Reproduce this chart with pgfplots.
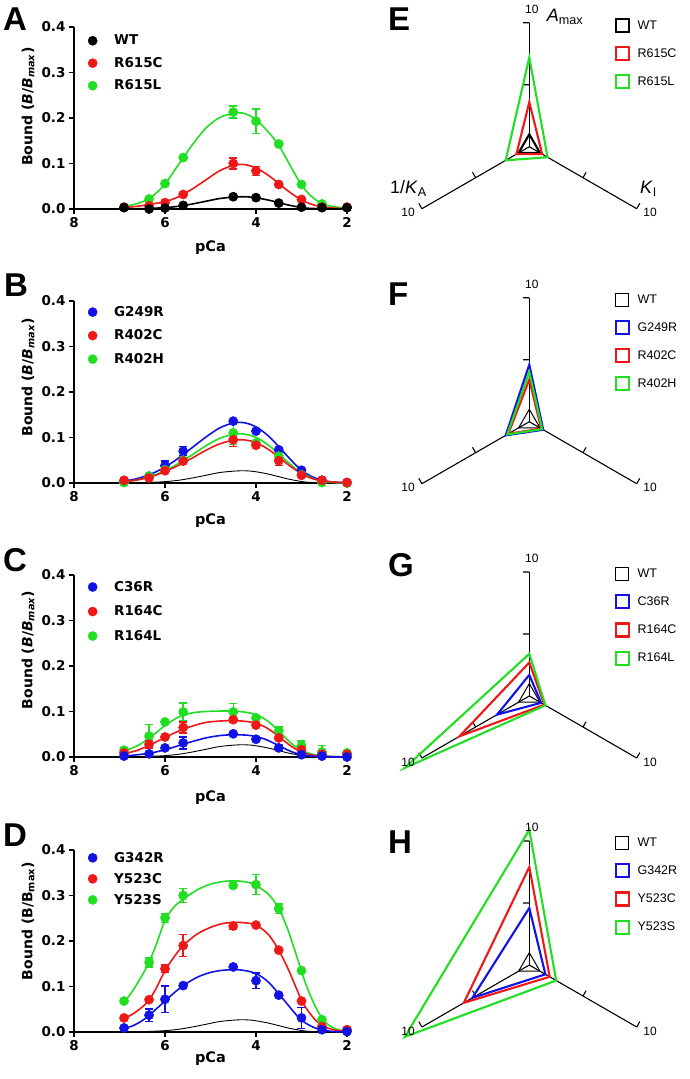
\documentclass[border=0pt]{standalone}
\usepackage{fontspec}
\setmainfont{Liberation Sans}
\newfontfamily\dejavu{DejaVu Sans}
\usepackage{pgfplots}
\pgfplotsset{compat=1.18}
\usepgfplotslibrary{polar}

\definecolor{cred}{RGB}{238,24,24}
\definecolor{cgreen}{RGB}{34,222,34}
\definecolor{cblue}{RGB}{18,18,230}

\newcommand{\bfont}[1]{\dejavu\bfseries\fontsize{#1}{#1}\selectfont}

\pgfplotsset{
  lp/.style={
    scale only axis, width=273pt, height=182pt,
    anchor=south west,
    xmin=2, xmax=8, x dir=reverse,
    ymin=0, ymax=0.4,
    axis x line*=bottom, axis y line*=left,
    axis line style={line width=1.6pt, black},
    xtick={2,4,6,8}, ytick={0,0.1,0.2,0.3,0.4},
    major tick style={line width=1.6pt, black},
    tick align=outside, major tick length=5pt,
    /pgf/number format/assume math mode=true,
    xticklabel style={font=\bfont{13.5}},
    yticklabel style={font=\bfont{13.5}, /pgf/number format/.cd, fixed, fixed zerofill, precision=1},
    xlabel={pCa},
    xlabel style={font=\bfont{14.5}, anchor=center},
    ylabel style={font=\bfont{14}, anchor=center},
    clip=false,
    legend cell align=left,
    legend style={draw=none, fill=none, anchor=north west, inner sep=0pt, nodes={inner sep=1.5pt}, font=\bfont{13.5}},
    legend image code/.code={\path[draw=none, fill=none] (-7pt,-5pt) rectangle (20pt,5pt); \draw[#1] plot coordinates {(0pt,0pt)};},
  },
  fit/.style={line width=1.6pt, smooth, mark=none, forget plot},
  wtref/.style={black, line width=0.9pt, smooth, mark=none, forget plot},
  pts/.style={only marks, mark=*, mark size=4.6pt, mark options={solid, line width=0.5pt}, forget plot,
    error bars/y dir=both, error bars/y explicit,
    error bars/error bar style={line width=1.4pt},
    error bars/error mark options={rotate=90, mark size=4pt, line width=1.4pt}},
  rp/.style={
    scale only axis, width=248pt, height=248pt, anchor=center,
    xmin=0, xmax=360, ymin=0, ymax=10,
    hide axis, clip=false,
    legend cell align=left,
    legend style={draw=none, fill=none, anchor=north west, at={(0.843,1.02)}, inner sep=0pt, nodes={inner sep=2pt}, row sep=13pt, font=\fontsize{12.5}{13}\selectfont},
    legend image code/.code={\path[draw=none, fill=none] (0pt,-6.5pt) rectangle (20pt,6.5pt); \draw[#1, line join=miter] (0pt,-6.5pt) rectangle (13pt,6.5pt);},
  },
  ax/.style={black, line width=1.1pt, mark=none, forget plot},
  poly/.style={line width=2.1pt, mark=none, line join=miter},
}

\begin{document}
\begin{tikzpicture}
\path[use as bounding box] (0pt,0pt) rectangle (689pt,-1079pt);

% ================= Panel A =================
\begin{axis}[lp, at={(74pt,-209pt)},
  xlabel style={at={(axis description cs:0.5,-0.21)}},
  ylabel={Bound (\textit{B}/\textit{B}\textsubscript{\textit{max}})},
  ylabel style={at={(axis description cs:-0.168,0.562)}},
  legend style={at={(0.042,0.965)}, row sep=8pt}]
\addlegendimage{only marks, mark=*, mark size=4.6pt, black}\addlegendentry{WT}
\addlegendimage{only marks, mark=*, mark size=4.6pt, cred}\addlegendentry{R615C}
\addlegendimage{only marks, mark=*, mark size=4.6pt, cgreen}\addlegendentry{R615L}
\addplot[fit, cgreen] coordinates {(6.9,0.006)(6.6,0.012)(6.3,0.026)(6.0,0.055)(5.7,0.098)(5.4,0.141)(5.1,0.178)(4.8,0.201)(4.5,0.210)(4.3,0.211)(4.1,0.203)(3.9,0.187)(3.7,0.166)(3.5,0.14)(3.3,0.105)(3.1,0.069)(2.9,0.040)(2.7,0.021)(2.5,0.010)(2.3,0.005)(2.0,0.002)};
\addplot[pts, cgreen] table[row sep=\\, x=x, y=y, y error=e] {x y e\\ 6.9 0.004 0\\ 6.35 0.022 0\\ 6.0 0.056 0\\ 5.6 0.113 0\\ 4.5 0.213 0.013\\ 4.0 0.193 0.027\\ 3.5 0.143 0\\ 3.0 0.054 0\\ 2.55 0.011 0\\ 2.0 0.003 0\\};
\addplot[fit, cred] coordinates {(6.9,0.003)(6.6,0.006)(6.3,0.011)(6.0,0.016)(5.7,0.027)(5.4,0.044)(5.1,0.064)(4.8,0.084)(4.5,0.096)(4.3,0.098)(4.1,0.094)(3.9,0.085)(3.7,0.072)(3.5,0.056)(3.3,0.040)(3.1,0.026)(2.9,0.015)(2.7,0.008)(2.5,0.004)(2.3,0.002)(2.0,0.001)};
\addplot[pts, cred] table[row sep=\\, x=x, y=y, y error=e] {x y e\\ 6.9 0.004 0\\ 6.35 0.007 0\\ 6.0 0.014 0\\ 5.6 0.032 0\\ 4.5 0.100 0.012\\ 4.0 0.084 0.01\\ 3.5 0.054 0\\ 3.0 0.021 0\\ 2.55 0.004 0\\ 2.0 0.004 0\\};
\addplot[fit, black] coordinates {(6.9,0.0)(6.6,0.0005)(6.3,0.0015)(6.0,0.003)(5.7,0.006)(5.4,0.011)(5.1,0.017)(4.8,0.023)(4.5,0.026)(4.3,0.027)(4.1,0.026)(3.9,0.023)(3.7,0.019)(3.5,0.014)(3.3,0.009)(3.1,0.005)(2.9,0.002)(2.7,0.001)(2.5,0.0)(2.0,0.0)};
\addplot[pts, black] table[row sep=\\, x=x, y=y, y error=e] {x y e\\ 6.9 0.003 0\\ 6.35 0.0 0\\ 6.0 0.002 0\\ 5.6 0.008 0\\ 4.5 0.027 0\\ 4.0 0.025 0\\ 3.5 0.013 0\\ 3.0 0.004 0\\ 2.55 0.003 0\\ 2.0 0.003 0\\};
\end{axis}

% ================= Panel B =================
\begin{axis}[lp, at={(74pt,-483pt)},
  xlabel style={at={(axis description cs:0.5,-0.206)}},
  ylabel={Bound (\textit{B}/\textit{B}\textsubscript{\textit{max}})},
  ylabel style={at={(axis description cs:-0.168,0.58)}},
  legend style={at={(0.042,0.98)}, row sep=9pt}]
\addlegendimage{only marks, mark=*, mark size=4.6pt, cblue}\addlegendentry{G249R}
\addlegendimage{only marks, mark=*, mark size=4.6pt, cred}\addlegendentry{R402C}
\addlegendimage{only marks, mark=*, mark size=4.6pt, cgreen}\addlegendentry{R402H}
\addplot[wtref] coordinates {(6.9,0.0)(6.6,0.0005)(6.3,0.0015)(6.0,0.003)(5.7,0.006)(5.4,0.011)(5.1,0.017)(4.8,0.023)(4.5,0.026)(4.3,0.027)(4.1,0.026)(3.9,0.023)(3.7,0.019)(3.5,0.014)(3.3,0.009)(3.1,0.005)(2.9,0.002)(2.7,0.001)(2.5,0.0)(2.0,0.0)};
\addplot[fit, cblue] coordinates {(6.9,0.004)(6.6,0.01)(6.3,0.02)(6.0,0.035)(5.7,0.055)(5.4,0.078)(5.1,0.101)(4.8,0.121)(4.5,0.132)(4.3,0.133)(4.1,0.128)(3.9,0.117)(3.7,0.101)(3.5,0.080)(3.3,0.058)(3.1,0.037)(2.9,0.021)(2.7,0.011)(2.5,0.005)(2.3,0.002)(2.0,0.001)};
\addplot[pts, cblue] table[row sep=\\, x=x, y=y, y error=e] {x y e\\ 6.9 0.004 0\\ 6.35 0.015 0\\ 6.0 0.038 0.01\\ 5.6 0.07 0.01\\ 4.5 0.136 0.004\\ 4.0 0.114 0.003\\ 3.5 0.073 0.004\\ 3.0 0.028 0\\ 2.55 0.006 0\\ 2.0 0.001 0\\};
\addplot[fit, cgreen] coordinates {(6.9,0.002)(6.6,0.007)(6.3,0.015)(6.0,0.027)(5.7,0.043)(5.4,0.062)(5.1,0.082)(4.8,0.098)(4.5,0.107)(4.3,0.108)(4.1,0.104)(3.9,0.095)(3.7,0.081)(3.5,0.064)(3.3,0.046)(3.1,0.029)(2.9,0.017)(2.7,0.008)(2.5,0.004)(2.3,0.001)(2.0,0.0)};
\addplot[pts, cgreen] table[row sep=\\, x=x, y=y, y error=e] {x y e\\ 6.9 0.001 0\\ 6.35 0.015 0\\ 6.0 0.029 0\\ 5.6 0.05 0\\ 4.5 0.11 0.025\\ 4.0 0.088 0\\ 3.5 0.059 0\\ 3.0 0.018 0\\ 2.55 0.001 0\\ 2.0 0.0 0\\};
\addplot[fit, cred] coordinates {(6.9,0.003)(6.6,0.007)(6.3,0.014)(6.0,0.025)(5.7,0.039)(5.4,0.055)(5.1,0.072)(4.8,0.086)(4.5,0.094)(4.3,0.095)(4.1,0.092)(3.9,0.084)(3.7,0.072)(3.5,0.057)(3.3,0.041)(3.1,0.027)(2.9,0.015)(2.7,0.008)(2.5,0.004)(2.3,0.002)(2.0,0.001)};
\addplot[pts, cred] table[row sep=\\, x=x, y=y, y error=e] {x y e\\ 6.9 0.006 0\\ 6.35 0.011 0\\ 6.0 0.027 0\\ 5.6 0.048 0\\ 4.5 0.095 0.015\\ 4.0 0.083 0\\ 3.5 0.049 0.01\\ 3.0 0.017 0\\ 2.55 0.006 0\\ 2.0 0.001 0\\};
\end{axis}

% ================= Panel C =================
\begin{axis}[lp, at={(74pt,-757pt)},
  xlabel style={at={(axis description cs:0.5,-0.222)}},
  ylabel={Bound (\textit{B}/\textit{B}\textsubscript{\textit{max}})},
  ylabel style={at={(axis description cs:-0.168,0.588)}},
  legend style={at={(0.042,0.975)}, row sep=10pt}]
\addlegendimage{only marks, mark=*, mark size=4.6pt, cblue}\addlegendentry{C36R}
\addlegendimage{only marks, mark=*, mark size=4.6pt, cred}\addlegendentry{R164C}
\addlegendimage{only marks, mark=*, mark size=4.6pt, cgreen}\addlegendentry{R164L}
\addplot[wtref] coordinates {(6.9,0.0)(6.6,0.0005)(6.3,0.0015)(6.0,0.003)(5.7,0.006)(5.4,0.011)(5.1,0.017)(4.8,0.023)(4.5,0.026)(4.3,0.027)(4.1,0.026)(3.9,0.023)(3.7,0.019)(3.5,0.014)(3.3,0.009)(3.1,0.005)(2.9,0.002)(2.7,0.001)(2.5,0.0)(2.0,0.0)};
\addplot[fit, cgreen] coordinates {(6.9,0.013)(6.6,0.025)(6.3,0.045)(6.0,0.069)(5.7,0.088)(5.4,0.097)(5.1,0.100)(4.8,0.101)(4.5,0.101)(4.2,0.098)(4.0,0.093)(3.8,0.083)(3.6,0.067)(3.4,0.047)(3.2,0.028)(3.0,0.015)(2.8,0.007)(2.6,0.003)(2.3,0.001)(2.0,0.0)};
\addplot[pts, cgreen] table[row sep=\\, x=x, y=y, y error=e] {x y e\\ 6.9 0.015 0\\ 6.35 0.046 0.026\\ 6.0 0.077 0\\ 5.6 0.099 0.02\\ 4.5 0.099 0.018\\ 4.0 0.086 0\\ 3.5 0.058 0.008\\ 3.0 0.025 0.01\\ 2.55 0.011 0.014\\ 2.0 0.009 0\\};
\addplot[fit, cred] coordinates {(6.9,0.007)(6.6,0.015)(6.3,0.028)(6.0,0.043)(5.7,0.057)(5.4,0.068)(5.1,0.076)(4.8,0.079)(4.5,0.080)(4.2,0.078)(4.0,0.074)(3.8,0.066)(3.6,0.053)(3.4,0.037)(3.2,0.022)(3.0,0.011)(2.8,0.005)(2.6,0.002)(2.3,0.001)(2.0,0.0)};
\addplot[pts, cred] table[row sep=\\, x=x, y=y, y error=e] {x y e\\ 6.9 0.009 0\\ 6.35 0.028 0.008\\ 6.0 0.044 0\\ 5.6 0.065 0.012\\ 4.5 0.082 0.005\\ 4.0 0.07 0\\ 3.5 0.042 0.015\\ 3.0 0.016 0\\ 2.55 0.006 0\\ 2.0 0.006 0\\};
\addplot[fit, cblue] coordinates {(6.9,0.002)(6.6,0.005)(6.3,0.009)(6.0,0.016)(5.7,0.025)(5.4,0.034)(5.1,0.042)(4.8,0.047)(4.5,0.049)(4.2,0.048)(4.0,0.045)(3.8,0.039)(3.6,0.030)(3.4,0.020)(3.2,0.011)(3.0,0.005)(2.8,0.002)(2.6,0.001)(2.3,0.0)(2.0,0.0)};
\addplot[pts, cblue] table[row sep=\\, x=x, y=y, y error=e] {x y e\\ 6.9 0.002 0\\ 6.35 0.007 0\\ 6.0 0.02 0\\ 5.6 0.031 0.013\\ 4.5 0.051 0\\ 4.0 0.039 0\\ 3.5 0.02 0.005\\ 3.0 0.005 0\\ 2.55 0.002 0\\ 2.0 0.0 0\\};
\end{axis}

% ================= Panel D =================
\begin{axis}[lp, at={(74pt,-1032pt)},
  xlabel style={at={(axis description cs:0.5,-0.148)}},
  ylabel={Bound (B/B\textsubscript{max})},
  ylabel style={at={(axis description cs:-0.168,0.61)}},
  legend style={at={(0.042,0.998)}, row sep=6.5pt}]
\addlegendimage{only marks, mark=*, mark size=4.6pt, cblue}\addlegendentry{G342R}
\addlegendimage{only marks, mark=*, mark size=4.6pt, cred}\addlegendentry{Y523C}
\addlegendimage{only marks, mark=*, mark size=4.6pt, cgreen}\addlegendentry{Y523S}
\addplot[wtref] coordinates {(6.9,0.0)(6.6,0.0005)(6.3,0.0015)(6.0,0.003)(5.7,0.006)(5.4,0.011)(5.1,0.017)(4.8,0.023)(4.5,0.026)(4.3,0.027)(4.1,0.026)(3.9,0.023)(3.7,0.019)(3.5,0.014)(3.3,0.009)(3.1,0.005)(2.9,0.002)(2.7,0.001)(2.5,0.0)(2.0,0.0)};
\addplot[fit, cgreen] coordinates {(6.9,0.065)(6.7,0.092)(6.5,0.125)(6.35,0.154)(6.2,0.19)(6.0,0.245)(5.8,0.275)(5.6,0.292)(5.3,0.312)(5.0,0.325)(4.7,0.331)(4.4,0.332)(4.1,0.327)(3.9,0.316)(3.7,0.300)(3.5,0.272)(3.3,0.225)(3.1,0.165)(3.0,0.134)(2.9,0.104)(2.7,0.057)(2.5,0.024)(2.3,0.009)(2.1,0.003)(2.0,0.002)};
\addplot[pts, cgreen] table[row sep=\\, x=x, y=y, y error=e] {x y e\\ 6.9 0.068 0\\ 6.35 0.153 0.01\\ 6.0 0.251 0.01\\ 5.6 0.3 0.015\\ 4.5 0.322 0\\ 4.0 0.324 0.022\\ 3.5 0.271 0.01\\ 3.0 0.135 0\\ 2.55 0.027 0\\ 2.0 0.005 0\\};
\addplot[fit, cred] coordinates {(6.9,0.03)(6.7,0.04)(6.5,0.055)(6.35,0.07)(6.2,0.095)(6.0,0.135)(5.8,0.165)(5.6,0.19)(5.3,0.215)(5.0,0.23)(4.7,0.239)(4.4,0.241)(4.1,0.238)(3.9,0.229)(3.7,0.211)(3.5,0.18)(3.3,0.14)(3.1,0.093)(3.0,0.07)(2.9,0.053)(2.7,0.027)(2.5,0.012)(2.3,0.005)(2.1,0.002)(2.0,0.001)};
\addplot[pts, cred] table[row sep=\\, x=x, y=y, y error=e] {x y e\\ 6.9 0.031 0\\ 6.35 0.071 0\\ 6.0 0.139 0.008\\ 5.6 0.19 0.024\\ 4.5 0.233 0.008\\ 4.0 0.235 0\\ 3.5 0.18 0\\ 3.0 0.068 0\\ 2.55 0.012 0\\ 2.0 0.005 0\\};
\addplot[fit, cblue] coordinates {(6.9,0.008)(6.7,0.014)(6.5,0.025)(6.35,0.036)(6.2,0.05)(6.0,0.068)(5.8,0.086)(5.6,0.102)(5.3,0.12)(5.0,0.131)(4.7,0.136)(4.4,0.137)(4.1,0.132)(3.9,0.123)(3.7,0.107)(3.5,0.084)(3.3,0.06)(3.1,0.036)(3.0,0.027)(2.9,0.019)(2.7,0.009)(2.5,0.004)(2.3,0.001)(2.0,0.0)};
\addplot[pts, cblue] table[row sep=\\, x=x, y=y, y error=e] {x y e\\ 6.9 0.009 0\\ 6.35 0.037 0.014\\ 6.0 0.072 0.029\\ 5.6 0.102 0\\ 4.5 0.143 0\\ 4.0 0.113 0.017\\ 3.5 0.081 0\\ 3.0 0.031 0.023\\ 2.55 0.005 0\\ 2.0 0.001 0\\};
\end{axis}

% ================= Radar E =================
\begin{polaraxis}[rp, at={(529.3pt,-146.7pt)}]
\addplot[ax] coordinates {(90,0)(90,10)};
\addplot[ax] coordinates {(210,0)(210,10)};
\addplot[ax] coordinates {(330,0)(330,10)};
\addplot[ax] coordinates {(90,5)(95.71,5.025)};
\addplot[ax] coordinates {(90,10)(92.86,10.0125)};
\addplot[ax] coordinates {(210,5)(204.29,5.025)};
\addplot[ax] coordinates {(210,10)(207.14,10.0125)};
\addplot[ax] coordinates {(330,5)(335.71,5.025)};
\addplot[ax] coordinates {(330,10)(332.86,10.0125)};
\addplot[poly, black] coordinates {(90,1)(210,1)(330,1)} --cycle;
\addlegendentry{WT}
\addplot[poly, cred] coordinates {(90,3.6)(210,1.2)(330,1.2)} --cycle;
\addlegendentry{R615C}
\addplot[poly, cgreen] coordinates {(90,7.2)(210,2.2)(330,1.7)} --cycle;
\addlegendentry{R615L}
\node[anchor=base west, inner sep=0pt, font=\fontsize{12}{12}\selectfont, xshift=-4.3pt, yshift=9.3pt] at (axis cs:90,10) {10};
\node[anchor=base east, inner sep=0pt, font=\fontsize{12}{12}\selectfont, xshift=-7pt, yshift=-8pt] at (axis cs:210,10) {10};
\node[anchor=base west, inner sep=0pt, font=\fontsize{12}{12}\selectfont, xshift=6.6pt, yshift=-8pt] at (axis cs:330,10) {10};
\node[anchor=base west, inner sep=0pt, font=\fontsize{18}{18}\selectfont, xshift=17.4pt, yshift=1pt] at (axis cs:90,10) {\textit{A}\textsubscript{max}};
\node[anchor=base east, inner sep=0pt, font=\fontsize{18}{18}\selectfont, xshift=5pt, yshift=15.4pt] at (axis cs:210,10) {1/\textit{K}\textsubscript{A}};
\node[anchor=base west, inner sep=0pt, font=\fontsize{18}{18}\selectfont, xshift=3.3pt, yshift=15.4pt] at (axis cs:330,10) {\textit{K}\textsubscript{I}};
\end{polaraxis}

% ================= Radar F =================
\begin{polaraxis}[rp, at={(529.3pt,-421.7pt)}]
\addplot[ax] coordinates {(90,0)(90,10)};
\addplot[ax] coordinates {(210,0)(210,10)};
\addplot[ax] coordinates {(330,0)(330,10)};
\addplot[ax] coordinates {(90,5)(95.71,5.025)};
\addplot[ax] coordinates {(90,10)(92.86,10.0125)};
\addplot[ax] coordinates {(210,5)(204.29,5.025)};
\addplot[ax] coordinates {(210,10)(207.14,10.0125)};
\addplot[ax] coordinates {(330,5)(335.71,5.025)};
\addplot[ax] coordinates {(330,10)(332.86,10.0125)};
\addplot[poly, black, line width=1pt] coordinates {(90,1)(210,1)(330,1)} --cycle;
\addlegendentry{WT}
\addplot[poly, cblue] coordinates {(90,4.6)(210,2.2)(330,1.3)} --cycle;
\addlegendentry{G249R}
\addplot[poly, cred] coordinates {(90,3.4)(210,1.95)(330,1.1)} --cycle;
\addlegendentry{R402C}
\addplot[poly, cgreen] coordinates {(90,4.0)(210,2.05)(330,1.2)} --cycle;
\addlegendentry{R402H}
\node[anchor=base west, inner sep=0pt, font=\fontsize{12}{12}\selectfont, xshift=-4.3pt, yshift=9.3pt] at (axis cs:90,10) {10};
\node[anchor=base east, inner sep=0pt, font=\fontsize{12}{12}\selectfont, xshift=-7pt, yshift=-8pt] at (axis cs:210,10) {10};
\node[anchor=base west, inner sep=0pt, font=\fontsize{12}{12}\selectfont, xshift=6.6pt, yshift=-8pt] at (axis cs:330,10) {10};
\end{polaraxis}

% ================= Radar G =================
\begin{polaraxis}[rp, at={(529.3pt,-696pt)}]
\addplot[ax] coordinates {(90,0)(90,10)};
\addplot[ax] coordinates {(210,0)(210,10)};
\addplot[ax] coordinates {(330,0)(330,10)};
\addplot[ax] coordinates {(90,5)(95.71,5.025)};
\addplot[ax] coordinates {(90,10)(92.86,10.0125)};
\addplot[ax] coordinates {(210,5)(204.29,5.025)};
\addplot[ax] coordinates {(210,10)(207.14,10.0125)};
\addplot[ax] coordinates {(330,5)(335.71,5.025)};
\addplot[ax] coordinates {(330,10)(332.86,10.0125)};
\addplot[poly, black, line width=1pt] coordinates {(90,1)(210,1)(330,1)} --cycle;
\addlegendentry{WT}
\addplot[poly, cblue] coordinates {(90,1.7)(210,3.0)(330,1.1)} --cycle;
\addlegendentry{C36R}
\addplot[poly, cred] coordinates {(90,2.7)(210,6.5)(330,1.4)} --cycle;
\addlegendentry{R164C}
\addplot[poly, cgreen] coordinates {(90,3.4)(210,11.6)(330,1.5)} --cycle;
\addlegendentry{R164L}
\node[anchor=base west, inner sep=0pt, font=\fontsize{12}{12}\selectfont, xshift=-4.3pt, yshift=9.3pt] at (axis cs:90,10) {10};
\node[anchor=base east, inner sep=0pt, font=\fontsize{12}{12}\selectfont, xshift=-7pt, yshift=-8pt] at (axis cs:210,10) {10};
\node[anchor=base west, inner sep=0pt, font=\fontsize{12}{12}\selectfont, xshift=6.6pt, yshift=-8pt] at (axis cs:330,10) {10};
\end{polaraxis}

% ================= Radar H =================
\begin{polaraxis}[rp, at={(529.3pt,-965pt)}]
\addplot[ax] coordinates {(90,0)(90,10)};
\addplot[ax] coordinates {(210,0)(210,10)};
\addplot[ax] coordinates {(330,0)(330,10)};
\addplot[ax] coordinates {(90,5)(95.71,5.025)};
\addplot[ax] coordinates {(90,10)(92.86,10.0125)};
\addplot[ax] coordinates {(210,5)(204.29,5.025)};
\addplot[ax] coordinates {(210,10)(207.14,10.0125)};
\addplot[ax] coordinates {(330,5)(335.71,5.025)};
\addplot[ax] coordinates {(330,10)(332.86,10.0125)};
\addplot[poly, black, line width=1pt] coordinates {(90,1)(210,1)(330,1)} --cycle;
\addlegendentry{WT}
\addplot[poly, cblue] coordinates {(90,4.6)(210,5.3)(330,1.5)} --cycle;
\addlegendentry{G342R}
\addplot[poly, cred] coordinates {(90,7.9)(210,6.1)(330,1.9)} --cycle;
\addlegendentry{Y523C}
\addplot[poly, cgreen] coordinates {(90,10.9)(210,11.6)(330,2.5)} --cycle;
\addlegendentry{Y523S}
\node[anchor=base west, inner sep=0pt, font=\fontsize{12}{12}\selectfont, xshift=-4.3pt, yshift=9.3pt] at (axis cs:90,10) {10};
\node[anchor=base east, inner sep=0pt, font=\fontsize{12}{12}\selectfont, xshift=-7pt, yshift=-8pt] at (axis cs:210,10) {10};
\node[anchor=base west, inner sep=0pt, font=\fontsize{12}{12}\selectfont, xshift=6.6pt, yshift=-8pt] at (axis cs:330,10) {10};
\end{polaraxis}

% ================= Panel letters =================
\node[anchor=base west, inner sep=0pt, font=\bfseries\fontsize{33}{33}\selectfont] at (3pt,-30pt) {A};
\node[anchor=base west, inner sep=0pt, font=\bfseries\fontsize{33}{33}\selectfont] at (4pt,-296.7pt) {B};
\node[anchor=base west, inner sep=0pt, font=\bfseries\fontsize{33}{33}\selectfont] at (3pt,-571.7pt) {C};
\node[anchor=base west, inner sep=0pt, font=\bfseries\fontsize{33}{33}\selectfont] at (3pt,-846.7pt) {D};
\node[anchor=base west, inner sep=0pt, font=\bfseries\fontsize{33}{33}\selectfont] at (388pt,-30.7pt) {E};
\node[anchor=base west, inner sep=0pt, font=\bfseries\fontsize{33}{33}\selectfont] at (388pt,-305pt) {F};
\node[anchor=base west, inner sep=0pt, font=\bfseries\fontsize{33}{33}\selectfont] at (388pt,-576.7pt) {G};
\node[anchor=base west, inner sep=0pt, font=\bfseries\fontsize{33}{33}\selectfont] at (388pt,-853.3pt) {H};
\end{tikzpicture}
\end{document}
